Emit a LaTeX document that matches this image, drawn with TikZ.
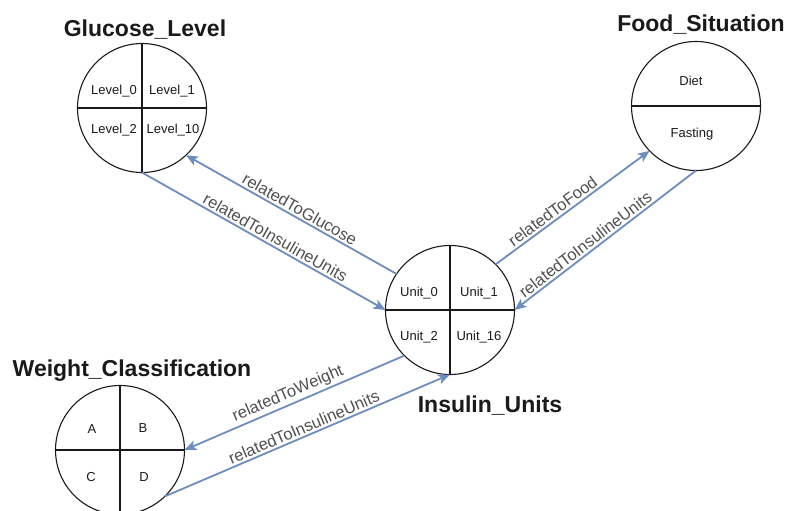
\documentclass[tikz,border=0pt]{standalone}
\usepackage{fontspec}
\setmainfont{Liberation Sans}
\usetikzlibrary{arrows.meta}
\definecolor{edgeblue}{HTML}{6C8EBF}
\definecolor{labelgray}{HTML}{505050}
\definecolor{inkdark}{HTML}{1A1A1A}
\begin{document}
\begin{tikzpicture}[x=1pt,y=-1pt,
  state/.style={circle,draw=inkdark,line width=1.1pt,minimum size=129pt,inner sep=0pt,outer sep=0pt},
  title/.style={font=\fontsize{23}{27}\selectfont\bfseries,text=inkdark,anchor=base,inner sep=0pt},
  cell/.style={font=\fontsize{13}{15}\selectfont,text=inkdark,inner sep=0pt},
  divider/.style={draw=inkdark,line width=1.1pt},
  arr/.style={draw=edgeblue,line width=1.8pt,-{Stealth[length=12pt,width=10pt,inset=3pt]}},
  lbl/.style={font=\fontsize{16.5}{19}\selectfont,text=labelgray,sloped,above,inner sep=2pt}]
\useasboundingbox[fill=white] (0,0) rectangle (787,511);

% class circles
\node[state] (glu)  at (142,108) {};
\node[state] (food) at (696,106) {};
\node[state] (ins)  at (450,310) {};
\node[state] (wgt)  at (120,450) {};

% quadrant / half dividers
\draw[divider] (glu.north) -- (glu.south) (glu.west) -- (glu.east);
\draw[divider] (ins.north) -- (ins.south) (ins.west) -- (ins.east);
\draw[divider] (wgt.north) -- (wgt.south) (wgt.west) -- (wgt.east);
\draw[divider] (food.west) -- (food.east);

% instance names
\node[cell] (g0)  at (114,91)  {Level\_0};
\node[cell] (g1)  at (172,91)  {Level\_1};
\node[cell] (g2)  at (114,130) {Level\_2};
\node[cell] (g10) at (173,130) {Level\_10};

\node[cell] (fd) at (691,81)  {Diet};
\node[cell] (ff) at (692,134) {Fasting};

\node[cell] (u0)  at (419,293) {Unit\_0};
\node[cell] (u1)  at (479,293) {Unit\_1};
\node[cell] (u2)  at (419,337) {Unit\_2};
\node[cell] (u16) at (479,337) {Unit\_16};

\node[cell] (wa) at (92,429)  {A};
\node[cell] (wb) at (143,428) {B};
\node[cell] (wc) at (91,477)  {C};
\node[cell] (wd) at (144,477) {D};

% class titles
\node[title] (tglu)  at (145,37)  {Glucose\_Level};
\node[title] (tfood) at (701,32)  {Food\_Situation};
\node[title] (twgt)  at (132,376) {Weight\_Classification};
\node[title] (tins)  at (490,412) {Insulin\_Units};

% relations
\draw[arr] (ins.146) -- (glu.313) node[lbl,pos=0.48] {relatedToGlucose};
\draw[arr] (glu.270) -- (ins.180) node[lbl,pos=0.53] {relatedToInsulineUnits};
\draw[arr] (ins.45) -- (food.224) node[lbl,pos=0.405] {relatedToFood};
\draw[arr] (food.270) -- (ins.0) node[lbl,pos=0.58] {relatedToInsulineUnits};
\draw[arr] (ins.225) -- (wgt.0) node[lbl,pos=0.51] {relatedToWeight};
\draw[arr] (wgt.314) -- (ins.270) node[lbl,pos=0.5] {relatedToInsulineUnits};
\end{tikzpicture}
\end{document}
